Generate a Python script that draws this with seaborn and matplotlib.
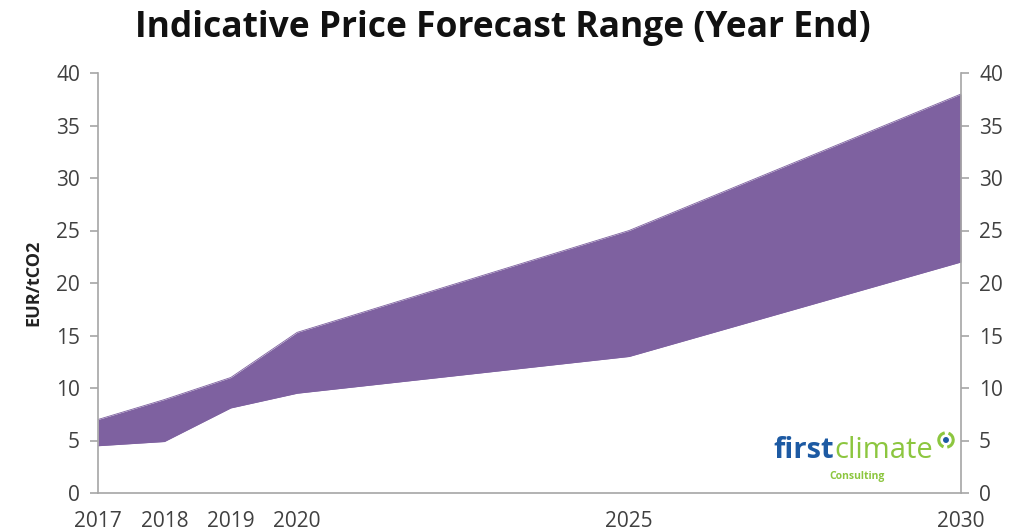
import matplotlib
matplotlib.use("Agg")
import matplotlib.pyplot as plt
import seaborn as sns
import pandas as pd
from matplotlib.ticker import FixedLocator, MultipleLocator
from matplotlib.patches import Arc, Circle

# Forecast range, EUR per tonne CO2, at year end
years = [2017, 2018, 2019, 2020, 2025, 2030]
upper = [7.0, 8.9, 11.0, 15.3, 25.0, 38.0]
lower = [4.5, 4.9, 8.1, 9.5, 13.0, 22.0]
labelled_years = [2017, 2018, 2019, 2020, 2025, 2030]

df = pd.DataFrame({"year": years, "upper": upper, "lower": lower})

sns.set_theme(style="white")
plt.rcParams["font.family"] = ["Open Sans", "DejaVu Sans"]

fill = "#7e61a0"
grey = "#a6a6a6"
txt = "#404040"
blue = "#1d5aa3"
green = "#8cc63f"

W, H = 1025, 532
fig = plt.figure(figsize=(W / 100, H / 100), dpi=100)
ax = fig.add_axes([98 / W, 1 - 493 / H, (961 - 98) / W, (493 - 73) / H])

sns.lineplot(data=df, x="year", y="upper", ax=ax, color=fill, linewidth=0.6)
sns.lineplot(data=df, x="year", y="lower", ax=ax, color=fill, linewidth=0.6)
ax.fill_between(df["year"], df["lower"], df["upper"], color=fill, linewidth=0)

ax.set_xlim(2017, 2030)
ax.set_ylim(0, 40)
ax.yaxis.set_major_locator(MultipleLocator(5))
ax.xaxis.set_major_locator(FixedLocator(labelled_years))
ax.xaxis.set_minor_locator(MultipleLocator(1))

for side in ["left", "bottom", "right"]:
    ax.spines[side].set_color(grey)
    ax.spines[side].set_linewidth(1.2)
ax.spines["top"].set_visible(False)

ax.tick_params(axis="both", which="both", direction="out", color=grey, width=1.2,
               labelcolor=txt, labelsize=15)
ax.tick_params(axis="x", which="both", length=6, pad=7)
ax.tick_params(axis="y", length=6, pad=7, right=True, labelright=True, left=True)
ax.set_xticklabels([str(y) for y in labelled_years])

ax.set_xlabel("")
ax.set_ylabel("EUR/tCO2", fontsize=13, fontweight="bold", color="#222222", labelpad=10)

fig.text(503 / W, 1 - 28 / H, "Indicative Price Forecast Range (Year End)",
         ha="center", va="center", fontsize=25.5, fontweight="bold", color="#111111")

# company mark, lower right
t1 = fig.text(773 / W, 1 - 451 / H, "first", ha="left", va="center",
              fontsize=21, fontweight="bold", color=blue)
fig.canvas.draw()
bb = t1.get_window_extent()
fig.text(bb.x1 / W + 1 / W, 1 - 451 / H, "climate", ha="left", va="center",
         fontsize=21, color=green)
fig.text(857 / W, 1 - 476 / H, "Consulting", ha="center", va="center",
         fontsize=7.5, fontweight="bold", color=green)

icon = fig.add_axes([937 / W, 1 - 449 / H, 18 / W, 18 / H])
icon.set_xlim(-1, 1)
icon.set_ylim(-1, 1)
icon.set_aspect("equal")
icon.axis("off")
icon.add_patch(Arc((0, 0), 1.6, 1.6, theta1=100, theta2=250, color=green, linewidth=2.2))
icon.add_patch(Arc((0, 0), 1.6, 1.6, theta1=-80, theta2=70, color=green, linewidth=2.2))
icon.add_patch(Circle((0, 0), 0.25, color=blue))

fig.savefig("out.png", dpi=100)
